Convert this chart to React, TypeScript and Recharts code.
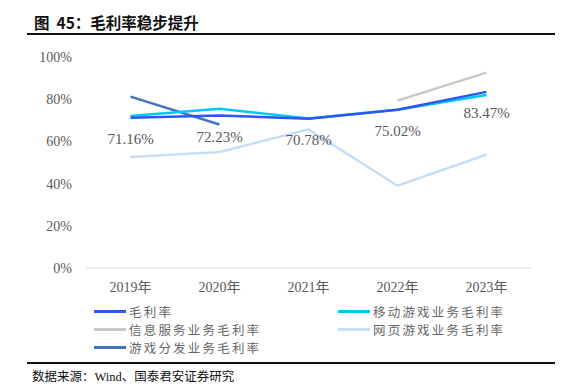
import React from "react";
import { LineChart, Line, XAxis, YAxis, LabelList } from "recharts";

const categories = ["2019年", "2020年", "2021年", "2022年", "2023年"];
const grossMargin = [71.16, 72.23, 70.78, 75.02, 83.47];
const mobileGame = [72.0, 75.5, 70.8, 75.0, 82.0];
const infoService: (number | null)[] = [null, null, null, 79.3, 92.6];
const webGame = [52.6, 55.0, 65.7, 39.0, 53.7];
const gameDistribution: (number | null)[] = [81.2, 68.0, null, null, null];
const yTicks = [0, 20, 40, 60, 80, 100];

const seriesNames = {
  gm: "毛利率",
  mobile: "移动游戏业务毛利率",
  info: "信息服务业务毛利率",
  web: "网页游戏业务毛利率",
  dist: "游戏分发业务毛利率",
};
const colors = {
  gm: "#2F55F5",
  mobile: "#00C8F8",
  info: "#C8C8C8",
  web: "#C6DCFC",
  dist: "#4472C4",
};

const data = categories.map((c, i) => ({
  name: c,
  gm: grossMargin[i],
  mobile: mobileGame[i],
  info: infoService[i],
  web: webGame[i],
  dist: gameDistribution[i],
}));

const serif = "'Liberation Serif', 'Noto Sans CJK SC', serif";
const cjk = "'Noto Sans CJK SC', 'Liberation Serif', serif";

const LegendItem = ({ k, x, y }: { k: keyof typeof colors; x: number; y: number }) => (
  <div style={{ position: "absolute", left: x, top: y, display: "flex", alignItems: "center", height: 16 }}>
    <div style={{ width: 32, height: 3, background: colors[k], marginRight: 3 }} />
    <span style={{ fontFamily: cjk, fontSize: 12.5, color: "#666", letterSpacing: 2.2, whiteSpace: "nowrap" }}>
      {seriesNames[k]}
    </span>
  </div>
);

const renderLabel = (props: any) => {
  const { x, y, value } = props;
  return (
    <text x={x} y={y + 26} textAnchor="middle" fill="#595959" fontSize={15} fontFamily={serif}>
      {value.toFixed(2)}%
    </text>
  );
};

export default function App() {
  return (
    <div style={{ position: "absolute", left: 0, top: 0, width: 563, height: 386, background: "#fff", overflow: "hidden" }}>
      <div style={{ position: "absolute", left: 34, top: 11, fontFamily: cjk, fontWeight: 700, fontSize: 15.5, color: "#111", whiteSpace: "nowrap" }}>
        图&nbsp;&nbsp;45：毛利率稳步提升
      </div>
      <div style={{ position: "absolute", left: 27, top: 33, width: 528, height: 1.5, background: "#111" }} />
      <LineChart width={563} height={386} data={data} margin={{ top: 57, right: 32, bottom: 98, left: 0 }}>
        <XAxis
          dataKey="name"
          height={20}
          padding={{ left: 44.5, right: 44.5 }}
          axisLine={{ stroke: "#D9D9D9", strokeWidth: 1 }}
          tickLine={false}
          tick={{ fill: "#595959", fontSize: 14, fontFamily: serif }}
          tickMargin={8}
        />
        <YAxis
          width={86}
          domain={[0, 100]}
          ticks={yTicks}
          tickFormatter={(v: number) => `${v}%`}
          axisLine={false}
          tickLine={false}
          tickMargin={8}
          tick={{ fill: "#595959", fontSize: 14, fontFamily: serif }}
        />
        <Line dataKey="web" stroke={colors.web} strokeWidth={2.5} dot={false} isAnimationActive={false} />
        <Line dataKey="info" stroke={colors.info} strokeWidth={2.5} dot={false} isAnimationActive={false} />
        <Line dataKey="dist" stroke={colors.dist} strokeWidth={2.5} dot={false} isAnimationActive={false} />
        <Line dataKey="mobile" stroke={colors.mobile} strokeWidth={2.5} dot={false} isAnimationActive={false} />
        <Line dataKey="gm" stroke={colors.gm} strokeWidth={2.5} dot={false} isAnimationActive={false}>
          <LabelList dataKey="gm" content={renderLabel} />
        </Line>
      </LineChart>
      <LegendItem k="gm" x={94} y={303} />
      <LegendItem k="mobile" x={338} y={303} />
      <LegendItem k="info" x={94} y={321} />
      <LegendItem k="web" x={338} y={321} />
      <LegendItem k="dist" x={94} y={339} />
      <div style={{ position: "absolute", left: 27, top: 362, width: 528, height: 1.5, background: "#111" }} />
      <div style={{ position: "absolute", left: 32, top: 366, fontFamily: cjk, fontSize: 12.5, color: "#111", whiteSpace: "nowrap" }}>
        数据来源：<span style={{ fontFamily: serif }}>Wind</span>、国泰君安证券研究
      </div>
    </div>
  );
}
